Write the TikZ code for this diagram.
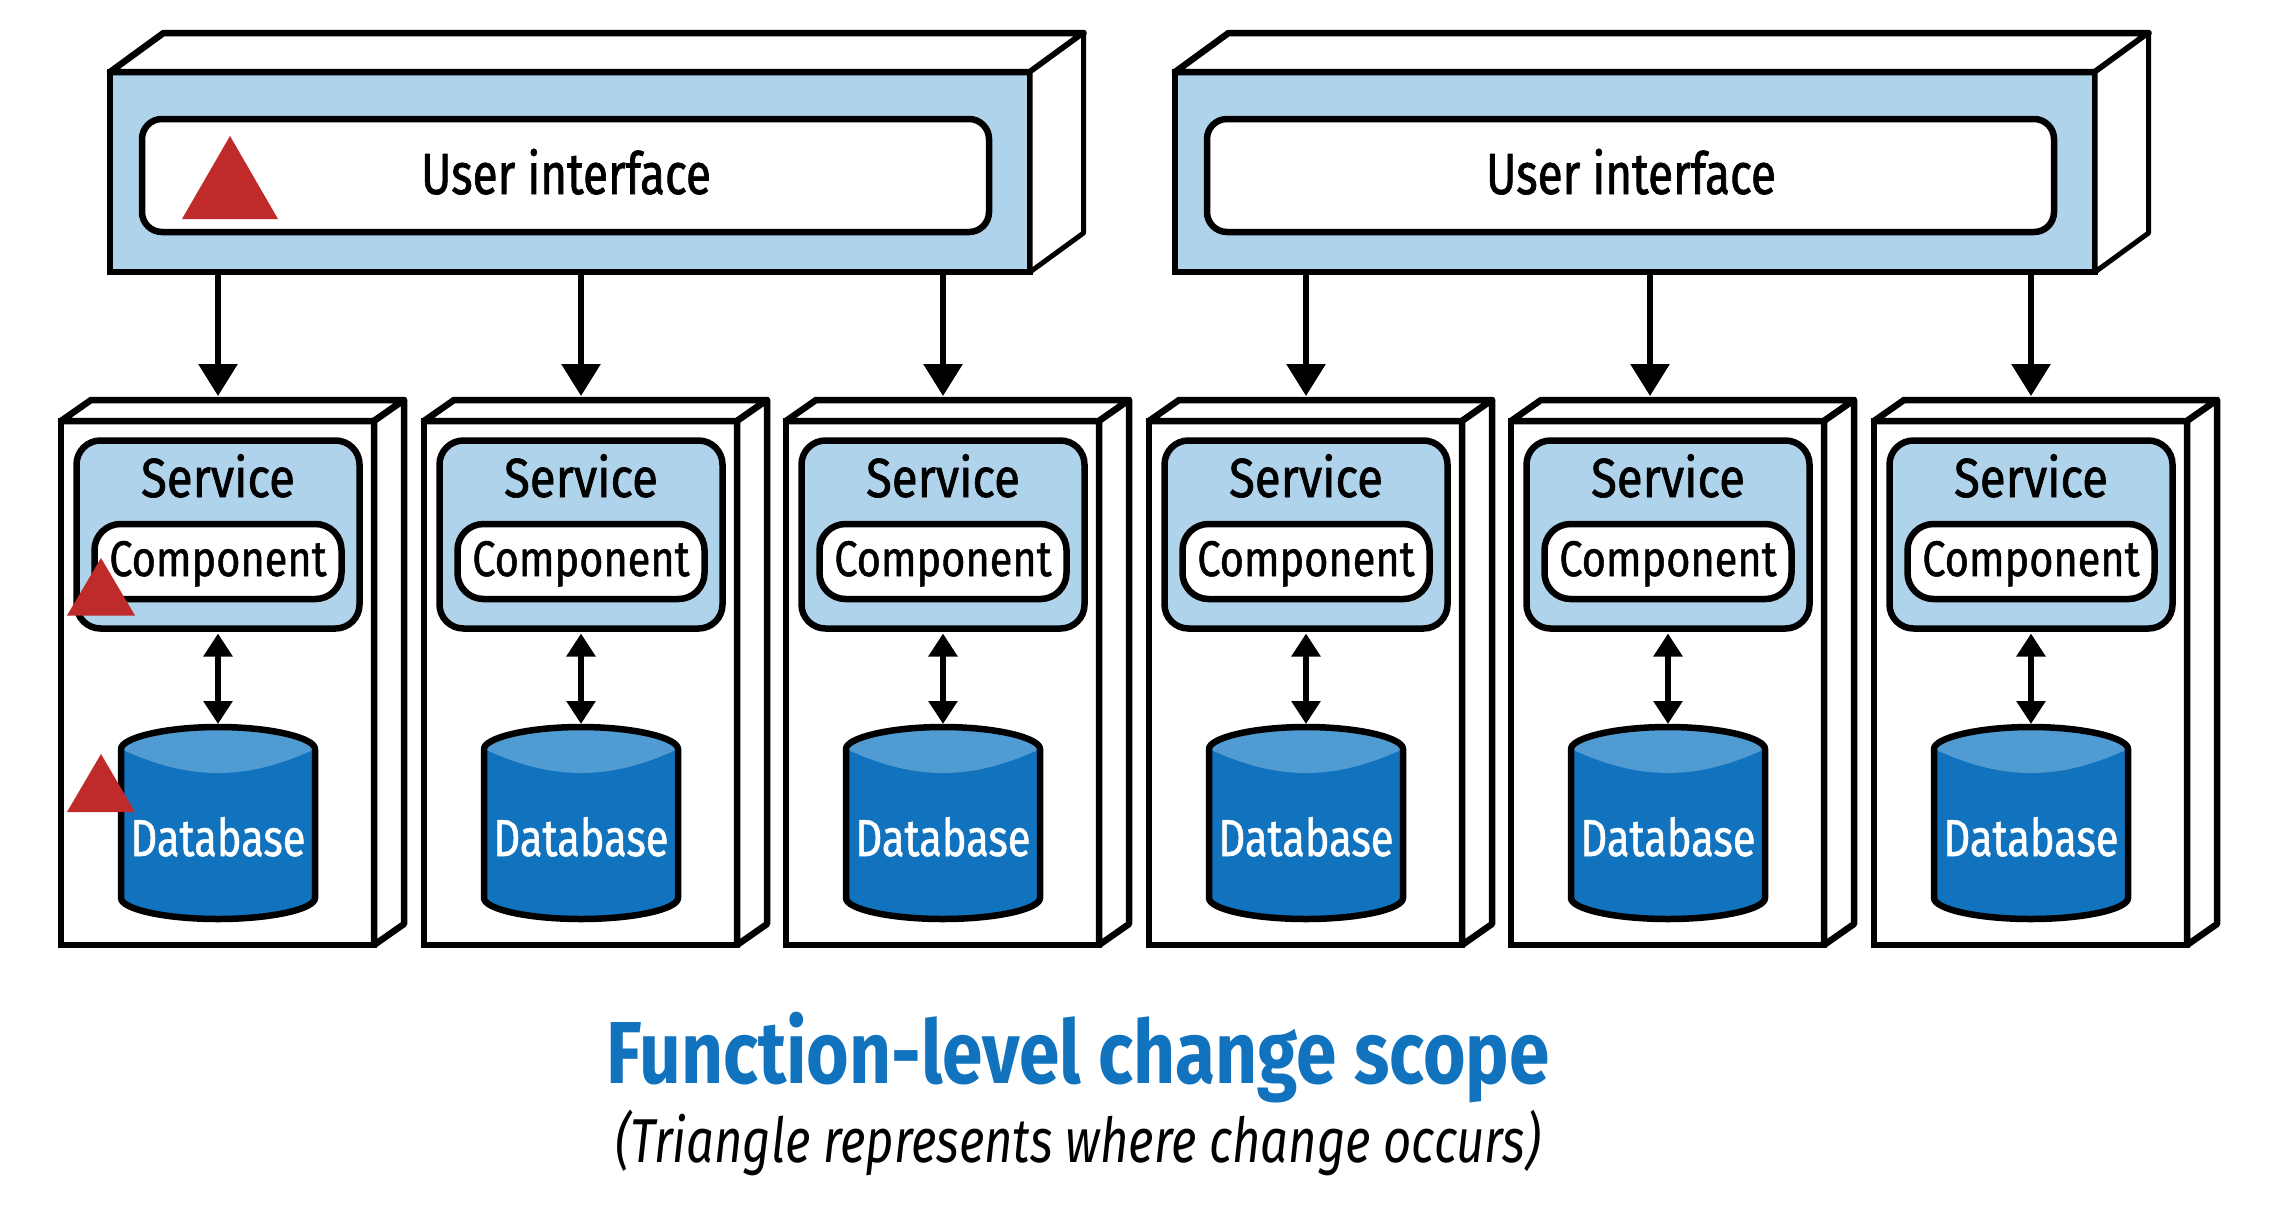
\documentclass[tikz,border=0pt]{standalone}
\usepackage{fontspec}
\usetikzlibrary{arrows.meta}
\setmainfont{Fira Sans}
\newfontfamily\svcfont[FakeStretch=0.86,FakeBold=1.2]{Fira Sans}
\newfontfamily\compfont[FakeStretch=0.83,FakeBold=1.0]{Fira Sans}
\newfontfamily\dbfont[FakeStretch=0.80,FakeBold=1.0]{Fira Sans}
\newfontfamily\uifont[FakeStretch=0.79,FakeBold=1.2]{Fira Sans}
\newfontfamily\titlefont[FakeStretch=0.83]{Fira Sans}
\newfontfamily\subfont[FakeStretch=0.79]{Fira Sans}
\definecolor{pale}{HTML}{AFD3EA}
\definecolor{deep}{HTML}{1172BE}
\definecolor{mid}{HTML}{4F9BD2}
\definecolor{mark}{HTML}{BF2A2A}
\tikzset{
  box3d/.style={draw=black,fill=white,line width=6.5pt,minimum width=313pt,minimum height=524pt,inner sep=0pt,outer sep=0pt},
  face/.style={draw=black,fill=white,line width=6.5pt,line join=round},
  uibox/.style={draw=black,fill=pale,line width=6.5pt,minimum width=920pt,minimum height=200pt,inner sep=0pt,outer sep=0pt},
  uiinner/.style={draw=black,fill=white,line width=6.5pt,rounded corners=20pt,minimum width=847pt,minimum height=113pt,inner sep=0pt,outer sep=0pt},
  svcbox/.style={draw=black,fill=pale,line width=6.5pt,rounded corners=24pt,minimum width=283pt,minimum height=188pt,inner sep=0pt,outer sep=0pt},
  compbox/.style={draw=black,fill=white,line width=6.5pt,rounded corners=26pt,minimum width=247pt,minimum height=75pt,inner sep=0pt,outer sep=0pt},
  lbl/.style={inner sep=0pt,anchor=base},
  svclbl/.style={lbl,font=\fontsize{55}{55}\selectfont\svcfont},
  complbl/.style={lbl,font=\fontsize{50}{50}\selectfont\compfont},
  dblbl/.style={lbl,text=white,font=\fontsize{52}{52}\selectfont\dbfont},
  uilbl/.style={lbl,font=\fontsize{58}{58}\selectfont\uifont},
  arrowline/.style={line width=6pt,-{Triangle[width=38pt,length=32pt]}},
  duoline/.style={line width=6pt,{Triangle[width=28pt,length=23pt]}-{Triangle[width=28pt,length=23pt]}},
  change/.style={fill=mark},
}
\begin{document}
\begin{tikzpicture}[x=1pt,y=-1pt]
\useasboundingbox (0,0) rectangle (2278,1208);
% user interface boxes
\foreach \n/\cx in {1/570,2/1635}{
  \node[uibox] (ui\n) at (\cx,172) {};
  \path[face] (ui\n.north west) -- ++(53.5,-39) -- ++(920,0) -- (ui\n.north east) -- cycle;
  \path[face,line width=5pt] (ui\n.north east) -- ++(53.5,-39) -- ++(0,200) -- (ui\n.south east) -- cycle;
  \node[uiinner] (uin\n) at (\cx-4.5,175.5) {};
  \node[uilbl] (uit\n) at (\cx-4,194) {User interface};
}
% columns
\foreach \i/\x/\u/\ax in {1/218/1/218,2/581/1/581,3/943/1/943,4/1306/2/1306,5/1668/2/1650,6/2031/2/2031}{
  \node[box3d] (box\i) at (\x-0.5,683) {};
  \path[face] (box\i.north west) -- ++(30,-21) -- ++(313,0) -- (box\i.north east) -- cycle;
  \path[face] (box\i.north east) -- ++(30,-21) -- ++(0,524) -- (box\i.south east) -- cycle;
  \coordinate (boxtop\i) at (\ax,396);
  \draw[arrowline] (ui\u.south -| boxtop\i) -- (boxtop\i);
  \node[svcbox] (svc\i) at (\x,534.5) {};
  \node[svclbl] (svct\i) at (\x,497) {Service};
  \node[compbox] (comp\i) at (\x,561.5) {};
  \node[complbl] (compt\i) at (\x,576) {Component};
  % database cylinder
  \path[fill=deep] (\x-97,749) .. controls (\x-97,738) and (\x-53.6,727) .. (\x,727)
     .. controls (\x+53.6,727) and (\x+97,738) .. (\x+97,749) -- (\x+97,898)
     .. controls (\x+97,909) and (\x+53.6,919) .. (\x,919)
     .. controls (\x-53.6,919) and (\x-97,909) .. (\x-97,898) -- cycle;
  \path[fill=mid] (\x-97,749) .. controls (\x-97,738) and (\x-53.6,727) .. (\x,727)
     .. controls (\x+53.6,727) and (\x+97,738) .. (\x+97,749)
     .. controls (\x+60,766) and (\x+30,773) .. (\x,773)
     .. controls (\x-30,773) and (\x-60,766) .. (\x-97,749) -- cycle;
  \draw[line width=6.5pt,line join=round] (\x-97,749) .. controls (\x-97,738) and (\x-53.6,727) .. (\x,727)
     .. controls (\x+53.6,727) and (\x+97,738) .. (\x+97,749) -- (\x+97,898)
     .. controls (\x+97,909) and (\x+53.6,919) .. (\x,919)
     .. controls (\x-53.6,919) and (\x-97,909) .. (\x-97,898) -- cycle;
  \node[dblbl] (dbt\i) at (\x,856) {Database};
  \coordinate (dbtop\i) at (\x,724);
  \draw[duoline,shorten <=5pt] (svc\i.south) -- (dbtop\i);
}
% triangles
\path[change] (230,136) -- (278,219) -- (182,219) -- cycle;
\path[change] (101,558) -- (135,615.5) -- (67,615.5) -- cycle;
\path[change] (101,754) -- (135,812) -- (67,812) -- cycle;
% captions
\node[lbl,text=deep,font=\fontsize{88}{88}\selectfont\titlefont\bfseries] (title) at (1078,1083) {Function-level change scope};
\node[lbl,font=\fontsize{62}{62}\selectfont\subfont\itshape] (sub) at (1078,1162) {(Triangle represents where change occurs)};
\end{tikzpicture}
\end{document}
